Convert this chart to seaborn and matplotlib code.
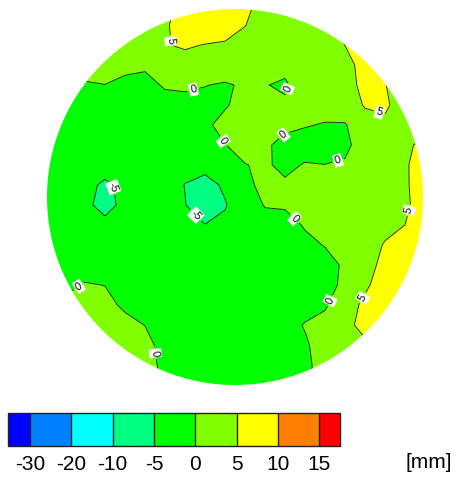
import numpy as np
import matplotlib
matplotlib.use("Agg")
import matplotlib.pyplot as plt
from matplotlib.colors import ListedColormap, BoundaryNorm
from matplotlib.patches import Circle
import seaborn as sns

# ---------------- data ----------------
# measurement grid (mm from plate centre, x to the right, y upward; top row first)
x_nodes = np.arange(-190, 191, 20)
y_nodes = np.arange(192, -189, -20)

deviation_mm = [
    [2.5, 2.5, 2.5, 2.5, 2.5, 2.5, 3.0, 7.0, 8.0, 8.0, 6.0, 3.5, 2.5, 2.5, 2.5, 2.5, 2.5, 2.5, 2.5, 2.5],
    [2.5, 2.5, 2.5, 2.5, 2.5, 3.1, 4.26, 7.6, 8.8, 7.8, 5.1, 3.4, 2.56, 2.5, 2.9, 5.5, 6.5, 6.0, 3.0, 2.5],
    [2.5, 2.5, 2.4, 2.4, 2.06, 2.56, 4.73, 5.6, 4.82, 4.33, 3.85, 3.1, 2.33, 2.5, 3.33, 5.05, 6.5, 6.0, 3.5, 2.5],
    [2.5, 2.0, 1.49, 1.6, 0.92, 0.55, 2.38, 3.03, 2.47, 3.0, 2.09, 1.76, 2.2, 2.0, 2.8, 3.3, 6.8, 7.0, 4.0, 3.0],
    [-1.0, -1.0, -0.35, -0.05, -0.88, -1.12, 0.39, 0.66, 0.15, -0.5, 0.6, 0.3, -1.1, 4.0, 2.46, 3.0, 6.4, 5.1, 3.5, 3.0],
    [-2.0, -1.8, -1.8, -1.67, -2.1, -2.1, -1.36, -1.3, -1.5, -0.34, 1.26, 1.42, 1.15, 1.77, 1.54, 2.24, 5.4, 5.8, 2.5, 3.0],
    [-2.5, -2.5, -2.5, -2.5, -2.5, -2.5, -2.3, -1.9, -0.65, 1.08, 1.9, 1.5, 0.88, 0.24, -0.26, -0.3, 2.84, 4.05, 3.17, 3.5],
    [-2.5, -2.5, -2.5, -2.56, -2.5, -2.5, -2.5, -2.38, -1.53, -0.08, 1.08, 0.6, -1.19, -1.55, -1.64, -0.7, 1.48, 2.7, 4.26, 6.0],
    [-2.5, -2.6, -3.14, -3.5, -3.14, -2.8, -3.1, -3.85, -3.5, -2.5, -0.1, 0.45, -0.8, 0.24, 0.05, 0.35, 1.53, 3.0, 4.4, 7.5],
    [-2.5, -2.94, -4.0, -5.6, -4.1, -2.94, -3.36, -5.1, -6.6, -4.3, -1.1, 1.23, 0.5, 1.77, 1.7, 1.7, 2.1, 3.0, 4.35, 7.5],
    [-2.5, -2.98, -4.08, -6.4, -3.9, -2.98, -3.28, -4.85, -7.8, -5.3, -2.22, 0.24, 0.43, 1.1, 2.14, 2.5, 2.56, 3.0, 4.25, 7.0],
    [-2.5, -2.6, -3.7, -3.85, -3.3, -2.5, -2.94, -3.7, -4.9, -4.1, -2.5, -1.55, -1.44, 0.33, 1.67, 2.06, 3.08, 3.88, 5.0, 7.0],
    [-2.0, -2.5, -2.4, -2.5, -2.5, -2.5, -2.5, -2.9, -3.47, -3.19, -2.5, -2.4, -2.3, -0.93, 0.16, 1.33, 3.17, 5.3, 8.0, 8.0],
    [-2.0, -1.97, -1.55, -1.53, -2.06, -2.5, -2.5, -2.5, -2.5, -2.5, -2.5, -2.5, -2.5, -2.25, -1.36, 0.56, 3.25, 6.3, 8.0, 8.0],
    [-0.5, -1.0, 0.24, -0.06, -1.49, -2.1, -2.5, -2.5, -2.5, -2.5, -2.5, -2.5, -2.5, -2.2, -1.36, 0.83, 4.1, 7.6, 8.0, 8.0],
    [1.5, 1.0, 1.77, 1.0, -0.63, -1.48, -2.4, -2.5, -2.5, -2.5, -2.5, -2.5, -2.0, -1.48, -0.46, 2.55, 6.1, 8.0, 8.0, 8.0],
    [2.0, 2.0, 2.0, 1.75, 1.08, -0.06, -1.5, -2.5, -2.5, -2.5, -2.5, -2.5, -1.36, 0.24, 1.2, 3.4, 6.8, 7.0, 7.0, 7.0],
    [2.0, 2.0, 2.0, 2.0, 2.06, 0.92, -1.08, -2.06, -2.5, -2.5, -2.5, -2.5, -1.72, -0.45, 1.57, 3.6, 4.0, 4.0, 4.0, 4.0],
    [2.0, 2.0, 2.0, 2.0, 2.0, 1.0, -0.65, -2.0, -2.0, -2.5, -2.5, -2.5, -2.06, -0.83, 1.5, 3.0, 3.5, 3.5, 3.5, 3.5],
    [2.0, 2.0, 2.0, 2.0, 2.0, 2.0, -0.5, -2.0, -2.0, -2.0, -2.0, -2.0, -1.5, -0.5, 1.0, 2.0, 3.0, 3.0, 3.0, 3.0],
]

level_bounds = [-30, -20, -10, -5, 0, 5, 10, 15]
tick_labels = ["-30", "-20", "-10", "-5", "0", "5", "10", "15"]
band_colors = ["#0080FF", "#00FFFF", "#00FF80", "#00FF00", "#80FF00", "#FFFF00", "#FF8000"]
under_color = "#0000FF"
over_color = "#FF0000"
line_levels = [-5, 0, 5]
plate_radius = 188
unit_label = "[mm]"

# where the contour labels sit (layout only)
label_points = [(-73, 155), (-42, 109), (-13, 55), (58, 106), (143, 80),
                (47, 64), (105, 30), (-120, 10), (-37, -16), (180, -15),
                (63, -18), (-155, -91), (98, -105), (128, -101), (-78, -156)]

# ---------------- style ----------------
sns.set_theme(style="white")
plt.rcParams["font.family"] = ["Liberation Sans", "DejaVu Sans"]
plt.rcParams["axes.unicode_minus"] = False

fig = plt.figure(figsize=(4.63, 4.79), dpi=100, facecolor="white")
ax = fig.add_axes([0, 0, 1, 1])
ax.set_xlim(-235, 228)
ax.set_ylim(-282, 197)
ax.axis("off")

Z = np.array(deviation_mm)[::-1]
Y = y_nodes[::-1]

cmap = ListedColormap(band_colors)
cmap.set_under(under_color)
cmap.set_over(over_color)
norm = BoundaryNorm(level_bounds, cmap.N)

cf = ax.contourf(x_nodes, Y, Z, levels=level_bounds, cmap=cmap, norm=norm,
                 extend="both", antialiased=True)
cl = ax.contour(x_nodes, Y, Z, levels=line_levels, colors="#1a1a1a",
                linewidths=0.6, linestyles="solid")

clip = Circle((0, 0), plate_radius, transform=ax.transData,
              facecolor="none", edgecolor="none")
ax.add_patch(clip)
cf.set_clip_path(clip)
cl.set_clip_path(clip)

texts = ax.clabel(cl, fmt="%g", fontsize=8, inline=True, inline_spacing=3,
                  manual=label_points)
for t in texts:
    t.set_color("black")
    t.set_bbox(dict(boxstyle="square,pad=0.12", facecolor="white",
                    edgecolor="none"))

# ---------------- colorbar ----------------
cax = fig.add_axes([0.0179, 0.0695, 0.7164, 0.0689])
cb = fig.colorbar(cf, cax=cax, orientation="horizontal", extendrect=True,
                  extendfrac=(0.075, 0.072), drawedges=True, spacing="uniform")
cb.set_ticks(level_bounds, labels=tick_labels)
cax.tick_params(length=0, labelsize=15, pad=6.5, colors="black")
cb.outline.set_linewidth(1.0)
cb.outline.set_edgecolor("#222222")
cb.dividers.set_linewidth(1.0)
cb.dividers.set_color("#222222")

fig.text(429 / 463, 1 - 462 / 479, unit_label, ha="center", va="center",
         fontsize=15, color="black")

fig.savefig("out.png", dpi=100, facecolor="white")
